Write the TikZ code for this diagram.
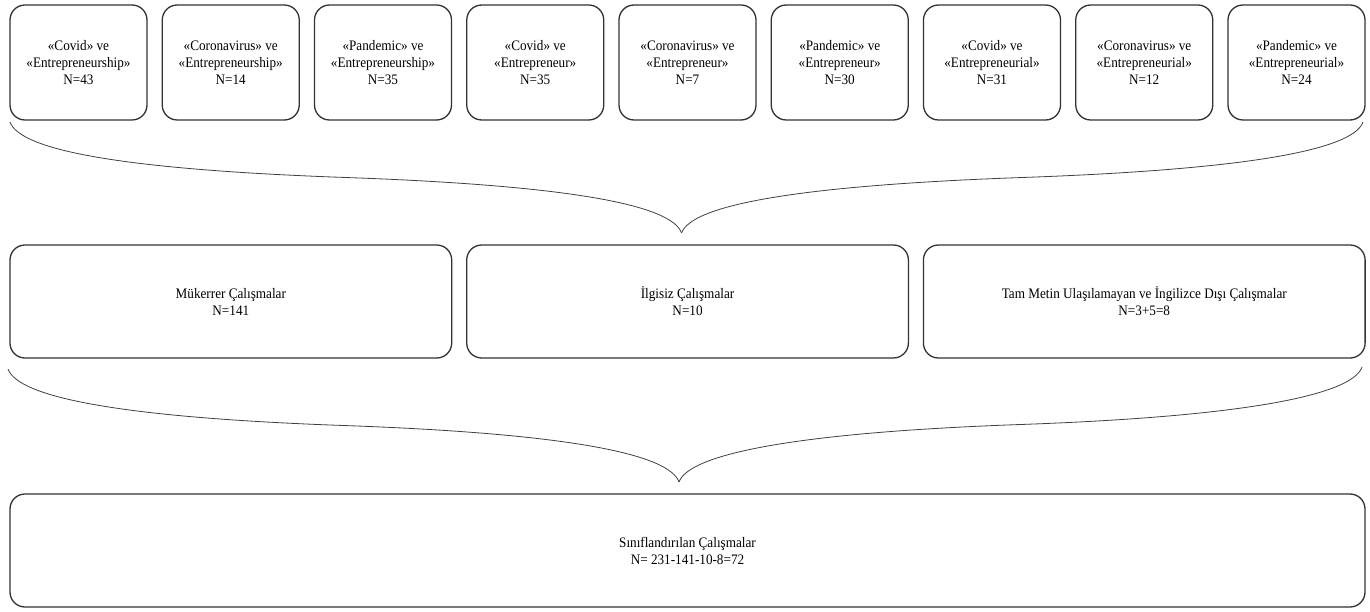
\documentclass[tikz,border=0pt]{standalone}
\usepackage{fontspec}
\setmainfont{Liberation Serif}[FakeStretch=0.91]
\usepackage{tikz}
\usetikzlibrary{positioning,calc}

\begin{document}
\begin{tikzpicture}[
        x=1pt, y=1pt,
        kwbox/.style={rectangle, draw=black!80, line width=1.3pt, rounded corners=15pt, minimum width=137pt, minimum height=115pt, align=center, inner sep=0pt, outer sep=0pt, font=\fontsize{14.5}{17}\selectfont},
        excbox/.style={kwbox, minimum width=441.7pt, minimum height=113pt},
        resbox/.style={kwbox, minimum width=1355pt, minimum height=113pt},
        brace/.style={draw=black!75, line width=0.8pt}
    ]
        \useasboundingbox (0,0) rectangle (1370,-612);

        % Search term combinations
        \node[kwbox, anchor=north west] (cvd1) at (10,-5) {«Covid» ve\\«Entrepreneurship»\\N=43};
        \node[kwbox, right=15.25pt of cvd1] (crn1) {«Coronavirus» ve\\«Entrepreneurship»\\N=14};
        \node[kwbox, right=15.25pt of crn1] (pnd1) {«Pandemic» ve\\«Entrepreneurship»\\N=35};
        \node[kwbox, right=15.25pt of pnd1] (cvd2) {«Covid» ve\\«Entrepreneur»\\N=35};
        \node[kwbox, right=15.25pt of cvd2] (crn2) {«Coronavirus» ve\\«Entrepreneur»\\N=7};
        \node[kwbox, right=15.25pt of crn2] (pnd2) {«Pandemic» ve\\«Entrepreneur»\\N=30};
        \node[kwbox, right=15.25pt of pnd2] (cvd3) {«Covid» ve\\«Entrepreneurial»\\N=31};
        \node[kwbox, right=15.25pt of cvd3] (crn3) {«Coronavirus» ve\\«Entrepreneurial»\\N=12};
        \node[kwbox, right=15.25pt of crn3] (pnd3) {«Pandemic» ve\\«Entrepreneurial»\\N=24};

        % Excluded studies
        \node[excbox, anchor=north west] (muk) at (10,-245) {Mükerrer Çalışmalar\\N=141};
        \node[excbox, right=15pt of muk] (ilg) {İlgisiz Çalışmalar\\N=10};
        \node[excbox, right=15pt of ilg] (tam) {Tam Metin Ulaşılamayan ve İngilizce Dışı Çalışmalar\\N=3+5=8};

        % Result
        \node[resbox, anchor=north west] (sin) at (10,-494) {Sınıflandırılan Çalışmalar\\N= 231-141-10-8=72};

        % Braces
        \coordinate (b1l) at ($(cvd1.south west)+(0,-2)$);
        \coordinate (b1r) at ($(pnd3.south east)+(-2,-2)$);
        \coordinate (b1t) at ($(ilg.north)+(-6,12)$);
        \draw[brace] (b1l) .. controls +(10,-28) and +(-225,8) .. ($(b1l)!0.5!(b1t)$) .. controls +(225,-8) and +(-10,28) .. (b1t);
        \draw[brace] (b1r) .. controls +(-10,-28) and +(225,8) .. ($(b1r)!0.5!(b1t)$) .. controls +(-225,-8) and +(10,28) .. (b1t);

        \coordinate (b2l) at ($(muk.south west)+(-2,-11)$);
        \coordinate (b2r) at ($(tam.south east)+(-3,-9)$);
        \coordinate (b2t) at ($(sin.north)+(-8.5,12)$);
        \draw[brace] (b2l) .. controls +(10,-28) and +(-225,8) .. ($(b2l)!0.5!(b2t)$) .. controls +(225,-8) and +(-10,28) .. (b2t);
        \draw[brace] (b2r) .. controls +(-10,-28) and +(225,8) .. ($(b2r)!0.5!(b2t)$) .. controls +(-225,-8) and +(10,28) .. (b2t);
    \end{tikzpicture}
\end{document}
